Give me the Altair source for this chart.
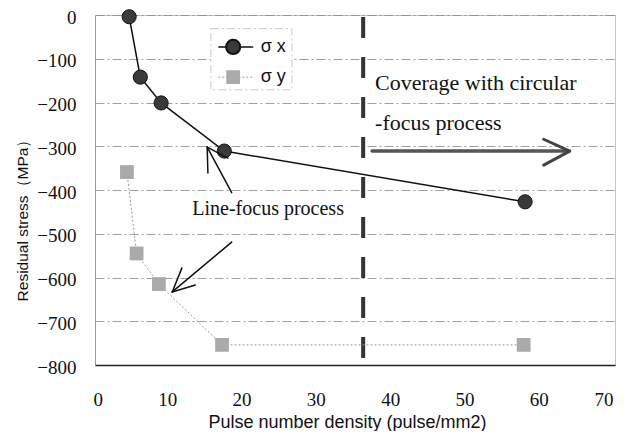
import altair as alt
import pandas as pd

# ---- data ----
density_sx = [4.6, 6.1, 8.9, 17.4, 57.9]
stress_sx = [-4, -142, -201, -311, -427]
density_sy = [4.3, 5.6, 8.6, 17.1, 57.7]
stress_sy = [-359, -545, -615, -754, -754]

x_ticks = [0, 10, 20, 30, 40, 50, 60, 70]
y_ticks = [0, -100, -200, -300, -400, -500, -600, -700, -800]

boundary_x = 36.1  # circular-focus coverage boundary

# annotation geometry (data units)
arrow_segments = [
    # horizontal arrow (shaft + head)
    {"id": "h_shaft", "x": 37.3, "y": -311, "x2": 63.7, "y2": -311, "w": 3.5, "c": "#555555"},
    {"id": "h_head1", "x": 60.4, "y": -284, "x2": 63.9, "y2": -311, "w": 3, "c": "#444444"},
    {"id": "h_head2", "x": 60.4, "y": -343, "x2": 63.9, "y2": -311, "w": 3, "c": "#444444"},
    # line-focus arrow to sigma x
    {"id": "a1_shaft", "x": 18.4, "y": -406, "x2": 15.1, "y2": -302, "w": 1.5, "c": "#111111"},
    {"id": "a1_head1", "x": 15.2, "y": -361, "x2": 15.1, "y2": -302, "w": 1.5, "c": "#111111"},
    {"id": "a1_head2", "x": 17.9, "y": -327, "x2": 15.1, "y2": -302, "w": 1.5, "c": "#111111"},
    # line-focus arrow to sigma y
    {"id": "a2_shaft", "x": 18.4, "y": -519, "x2": 10.4, "y2": -633, "w": 1.5, "c": "#111111"},
    {"id": "a2_head1", "x": 11.7, "y": -578, "x2": 10.4, "y2": -633, "w": 1.5, "c": "#111111"},
    {"id": "a2_head2", "x": 13.5, "y": -617, "x2": 10.4, "y2": -633, "w": 1.5, "c": "#111111"},
]

notes = [
    {"x": 13.1, "y": -457, "t": "Line-focus process", "fs": 20},
    {"x": 37.7, "y": -172, "t": "Coverage with circular", "fs": 22},
    {"x": 37.7, "y": -263, "t": "-focus process", "fs": 22},
]

legend_rows = [
    {"name": "σ x", "y": -73},
    {"name": "σ y", "y": -142},
]

df_sx = pd.DataFrame({"d": density_sx, "s": stress_sx})
df_sy = pd.DataFrame({"d": density_sy, "s": stress_sy})
df_arrows = pd.DataFrame(arrow_segments)
df_notes = pd.DataFrame(notes)

xscale = alt.Scale(domain=[0, 70], nice=False, zero=False)
yscale = alt.Scale(domain=[-800, 0], nice=False, zero=False)

common_axis = dict(
    labelFont="Liberation Sans Narrow", labelFontSize=19, labelColor="#111111",
    titleFont="Liberation Sans", titleFontWeight="normal", titleColor="#111111",
    ticks=False,
)

X = alt.X("d:Q", scale=xscale,
          axis=alt.Axis(values=x_ticks, title="Pulse number density (pulse/mm2)",
                        grid=False, labelPadding=25, labelOffset=-2,
                        domainColor="#222222", domainWidth=1.5,
                        titleFontSize=18,
                        titleX=252, titleY=62, titleAnchor="middle",
                        titleAlign="center", titleBaseline="alphabetic", **common_axis))
Y = alt.Y("s:Q", scale=yscale,
          axis=alt.Axis(values=y_ticks, title="Residual stress（MPa）",
                        grid=True, gridColor="#888888", gridDash=[9, 3, 2, 3], gridWidth=0.8,
                        labelPadding=19, labelOffset=2,
                        domainColor="#777777", domainDash=[1, 1],
                        titleFontSize=15.5,
                        titleX=-73, titleY=201, titleAngle=-90,
                        titleAlign="center", titleBaseline="middle", **common_axis))

base_sx = alt.Chart(df_sx).encode(x=X, y=Y)
line_sx = base_sx.mark_line(color="#111111", strokeWidth=1.5)
pts_sx = base_sx.mark_point(shape="circle", filled=True, size=200, color="#3a3a3a",
                            stroke="#111111", strokeWidth=1, opacity=1)

base_sy = alt.Chart(df_sy).encode(x="d:Q", y="s:Q")
line_sy = base_sy.mark_line(color="#999999", strokeWidth=1, strokeDash=[2, 2])
pts_sy = base_sy.mark_point(shape="square", filled=True, size=190, color="#aaaaaa", opacity=1)

vline = alt.Chart(pd.DataFrame({"d": [boundary_x]})).mark_rule(
    color="#333333", strokeWidth=4, strokeDash=[21, 19], strokeDashOffset=-2
).encode(x="d:Q")

arrows = alt.Chart(df_arrows).mark_rule(strokeCap="round").encode(
    x="x:Q", y="y:Q", x2="x2:Q", y2="y2:Q",
    color=alt.Color("c:N", scale=None),
    strokeWidth=alt.StrokeWidth("w:Q", scale=None),
    detail="id:N",
)

texts = alt.Chart(df_notes).mark_text(
    align="left", baseline="alphabetic", font="Liberation Serif", color="#111111"
).encode(x="x:Q", y="y:Q", text="t:N", size=alt.Size("fs:Q", scale=None))

# manual legend (as in reference: symbol on line segment)
leg_box = alt.Chart(pd.DataFrame({"x": [15.6], "x2": [26.5], "y": [-31], "y2": [-171]})).mark_rect(
    fill="white", stroke="#bbbbbb", strokeWidth=0.8, strokeDash=[8, 3, 2, 3]
).encode(x="x:Q", x2="x2:Q", y="y:Q", y2="y2:Q")

leg_line_sx = alt.Chart(pd.DataFrame({"x": [16.6], "x2": [21.3], "y": [legend_rows[0]["y"]]})).mark_rule(
    color="#111111", strokeWidth=1.5).encode(x="x:Q", x2="x2:Q", y="y:Q")
leg_line_sy = alt.Chart(pd.DataFrame({"x": [16.6], "x2": [21.3], "y": [legend_rows[1]["y"]]})).mark_rule(
    color="#999999", strokeWidth=1, strokeDash=[2, 2]).encode(x="x:Q", x2="x2:Q", y="y:Q")
leg_pt_sx = alt.Chart(pd.DataFrame({"x": [18.6], "y": [legend_rows[0]["y"]]})).mark_point(
    shape="circle", filled=True, size=200, color="#3a3a3a", stroke="#111111", opacity=1
).encode(x="x:Q", y="y:Q")
leg_pt_sy = alt.Chart(pd.DataFrame({"x": [18.6], "y": [legend_rows[1]["y"]]})).mark_point(
    shape="square", filled=True, size=190, color="#aaaaaa", opacity=1
).encode(x="x:Q", y="y:Q")
leg_text = alt.Chart(pd.DataFrame({"x": [22.3, 22.3], "y": [r["y"] for r in legend_rows],
                                   "t": [r["name"] for r in legend_rows]})).mark_text(
    align="left", baseline="middle", font="Liberation Sans", fontSize=18, color="#111111"
).encode(x="x:Q", y="y:Q", text="t:N")

chart = alt.layer(
    vline, line_sy, line_sx, pts_sy, pts_sx, arrows, texts,
    leg_box, leg_line_sx, leg_line_sy, leg_pt_sx, leg_pt_sy, leg_text
).properties(
    width=520, height=350,
    autosize=alt.AutoSizeParams(type="none"),
    padding={"left": 87, "top": 7, "right": 12, "bottom": 66},
    background="white",
).configure_view(
    stroke="#888888", strokeDash=[1, 1], strokeWidth=1
)

chart.save("out.html", embed_options={"renderer": "svg", "actions": False})
